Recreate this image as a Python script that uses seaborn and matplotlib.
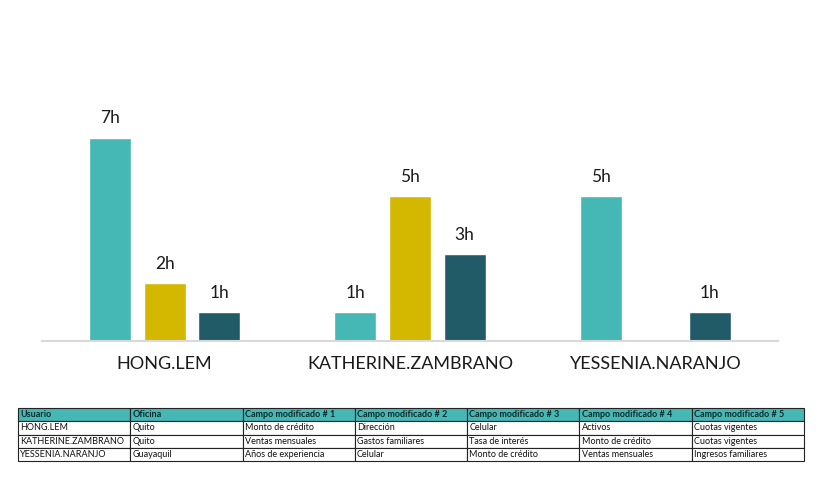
import numpy as np
import pandas as pd
import matplotlib
matplotlib.use("Agg")
import matplotlib.pyplot as plt
import seaborn as sns

# Hours per user, three series
usuarios = ["HONG.LEM", "KATHERINE.ZAMBRANO", "YESSENIA.NARANJO"]
serie_1 = [7, 1, 5]
serie_2 = [2, 5, np.nan]
serie_3 = [1, 3, 1]
series = ["Serie 1", "Serie 2", "Serie 3"]
colores = ["#45B7B4", "#D4B800", "#215B68"]

# Table of modified fields
tabla_cols = ["Usuario", "Oficina", "Campo modificado # 1", "Campo modificado # 2",
              "Campo modificado # 3", "Campo modificado # 4", "Campo modificado # 5"]
tabla_filas = [
    ["HONG.LEM", "Quito", "Monto de crédito", "Dirección", "Celular", "Activos", "Cuotas vigentes"],
    ["KATHERINE.ZAMBRANO", "Quito", "Ventas mensuales", "Gastos familiares", "Tasa de interés",
     "Monto de crédito", "Cuotas vigentes"],
    ["YESSENIA.NARANJO", "Guayaquil", "Años de experiencia", "Celular", "Monto de crédito",
     "Ventas mensuales", "Ingresos familiares"],
]

df = pd.DataFrame({
    "usuario": usuarios * 3,
    "serie": [s for s in series for _ in usuarios],
    "horas": serie_1 + serie_2 + serie_3,
})

sns.set_style("white")
plt.rcParams["font.family"] = ["Lato", "DejaVu Sans"]

fig = plt.figure(figsize=(8.22, 4.8), dpi=100)
ax = fig.add_axes([0.0511, 0.2896, 0.8954, 0.585])

sns.barplot(data=df, x="usuario", y="horas", hue="serie", order=usuarios,
            hue_order=series, palette=colores, width=0.667, gap=0.23,
            legend=False, ax=ax, saturation=1)

for cont in ax.containers:
    for bar in cont:
        h = bar.get_height()
        if np.isnan(h) or h == 0:
            continue
        ax.annotate(f"{int(h)}h", (bar.get_x() + bar.get_width() / 2, h),
                    xytext=(0, 8), textcoords="offset points",
                    ha="center", va="bottom", fontsize=12.5, color="#1a1a1a")

ax.set_xlim(-0.5, 2.5)
ax.set_ylim(0, 9.66)
ax.set_xlabel("")
ax.set_ylabel("")
ax.set_yticks([])
ax.tick_params(axis="x", length=0, pad=11, labelsize=13, labelcolor="#1a1a1a")
for s in ["top", "right", "left"]:
    ax.spines[s].set_visible(False)
ax.spines["bottom"].set_color("#D9D9D9")
ax.spines["bottom"].set_linewidth(1.5)

# Detail table below the chart
tax = fig.add_axes([0.0219, 0.0396, 0.956, 0.110])
tax.axis("off")
tbl = tax.table(cellText=tabla_filas, colLabels=tabla_cols, cellLoc="left",
                colLoc="left", loc="center", bbox=[0, 0, 1, 1])
tbl.auto_set_font_size(False)
for (r, c), cell in tbl.get_celld().items():
    cell.set_linewidth(0.8)
    cell.set_edgecolor("#222222")
    cell.PAD = 0.02
    txt = cell.get_text()
    txt.set_fontsize(6.5)
    txt.set_color("#111111")
    if r == 0:
        cell.set_facecolor("#45B7B4")
        txt.set_fontweight("bold")
        txt.set_color("#0d2a2a")

fig.savefig("out.png", dpi=100)
